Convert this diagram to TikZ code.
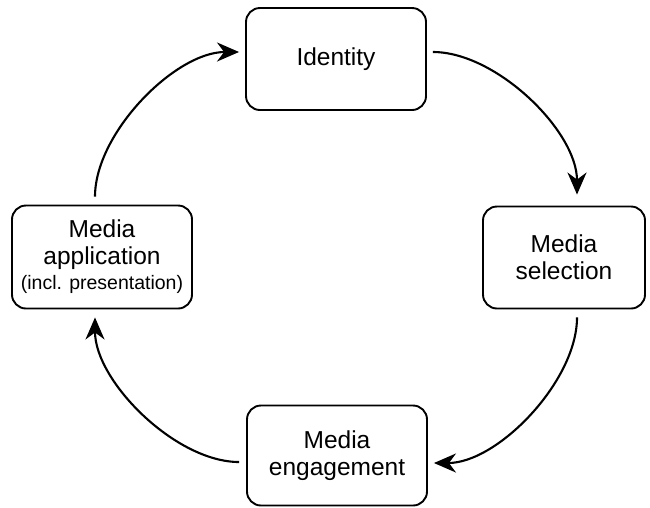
\documentclass[tikz,border=0pt]{standalone}
\usepackage{fontspec}
\setmainfont{Liberation Sans}
\usetikzlibrary{arrows.meta}
\begin{document}
\begin{tikzpicture}[x=1pt,y=-1pt,
  stagebox/.style={draw=black,line width=1.9pt,rounded corners=14pt,
    minimum width=180pt,minimum height=102pt,inner sep=0pt,align=center,
    font=\fontsize{24.5}{27}\selectfont},
  flow/.style={line width=2.1pt,-{Stealth[length=22pt,width=19pt,inset=7pt]}}]
\useasboundingbox (0,0) rectangle (650,507);
\node[stagebox] (id) at (336,59) {Identity};
\node[stagebox,minimum width=162pt] (sel) at (564,257.5) {Media\\selection};
\node[stagebox,minimum height=100pt] (eng) at (337,455.5) {Media\\engagement};
\node[stagebox,minimum height=103pt] (app) at (102,257) {Media\\application\\[-2pt]{\fontsize{19.5}{25}\selectfont (incl. presentation)}};
\draw[flow] ([shift={(6pt,7pt)}]id.east) to[out=0,in=90,looseness=0.8] ([shift={(13pt,11pt)}]sel.north);
\draw[flow] ([shift={(13pt,-8pt)}]sel.south) to[out=-90,in=0,looseness=0.8] ([shift={(6pt,-7.5pt)}]eng.east);
\draw[flow] ([shift={(-7pt,-6.5pt)}]eng.west) to[out=180,in=-90,looseness=0.8] ([shift={(-7pt,-8pt)}]app.south);
\draw[flow] ([shift={(-7pt,8pt)}]app.north) to[out=90,in=180,looseness=0.8] ([shift={(-6pt,7pt)}]id.west);
\end{tikzpicture}
\end{document}
